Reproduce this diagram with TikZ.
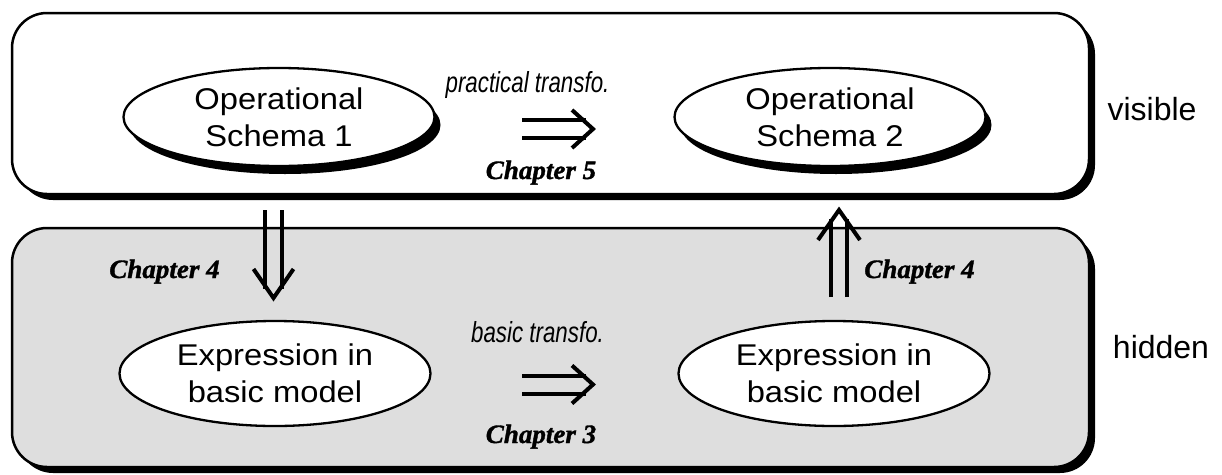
\documentclass[tikz,border=0pt]{standalone}
\usepackage{fontspec}
\setmainfont{Liberation Sans}
\newfontfamily\ovalfont[FakeStretch=1.09]{Liberation Sans}
\newfontfamily\chapfont[FakeBold=1.3, FakeStretch=1.02]{Liberation Serif}
\newfontfamily\transfont[FakeStretch=0.77]{Liberation Sans}
\usetikzlibrary{shapes.geometric,shadows}
\definecolor{panelgray}{RGB}{222,222,222}
\begin{document}
\begin{tikzpicture}[x=1pt,y=-1pt,
  panel/.style={rectangle, draw=black, line width=2.5pt, rounded corners=35pt, inner sep=0pt,
    drop shadow={opacity=1, fill=black, shadow xshift=6pt, shadow yshift=-6pt}},
  oval/.style={ellipse, draw=black, line width=2.3pt, fill=white, inner sep=0pt, align=center,
    minimum width=311pt, font=\ovalfont\fontsize{30}{37}\selectfont},
  ovalshadow/.style={drop shadow={opacity=1, fill=black, shadow xshift=6pt, shadow yshift=-8pt}},
  side/.style={anchor=base, font=\fontsize{32}{32}\selectfont},
  chap/.style={anchor=base, font=\chapfont\bfseries\itshape\fontsize{26.5}{26.5}\selectfont},
  transfo/.style={anchor=base, font=\transfont\itshape\fontsize{29}{29}\selectfont},
  dblline/.style={line width=4pt, line cap=butt, line join=miter}
]
\useasboundingbox (0,0) rectangle (1222,474);

% panels
\node[panel, fill=white, minimum width=1077pt, minimum height=181pt] (vis) at (550.5,103.5) {};
\node[panel, fill=panelgray, minimum width=1077pt, minimum height=239pt] (hid) at (550.5,347.5) {};

% side labels
\node[side] (lvis) at (1152,120) {visible};
\node[side] (lhid) at (1161,358) {hidden};

% ellipses
\node[oval, ovalshadow, minimum height=98pt] (os1) at (279,117) {Operational\\Schema 1};
\node[oval, ovalshadow, minimum height=98pt] (os2) at (830,117) {Operational\\Schema 2};
\node[oval, minimum height=105pt] (eb1) at (275,373.5) {Expression in\\basic model};
\node[oval, minimum height=105pt] (eb2) at (834,373.5) {Expression in\\basic model};

% texts
\node[transfo] (tp) at (527.5,92) {practical transfo.};
\node[transfo] (tb) at (537.5,342) {basic transfo.};
\node[chap] (c5) at (541,179) {Chapter 5};
\node[chap] (c3) at (541,443) {Chapter 3};
\node[chap] (c4l) at (164.5,278) {Chapter 4};
\node[chap] (c4r) at (919.5,278) {Chapter 4};

% double arrows
\coordinate (h1s) at (522,129); \coordinate (h1e) at (593,129);
\coordinate (h2s) at (522,384.5); \coordinate (h2e) at (593,384.5);
\coordinate (d1s) at (273.5,210); \coordinate (d1e) at (273.5,298);
\coordinate (u1s) at (839,297); \coordinate (u1e) at (839,210);

\draw[dblline] ([yshift=9pt]h1s) -- ([xshift=-7pt,yshift=9pt]h1e)
               ([yshift=-9pt]h1s) -- ([xshift=-7pt,yshift=-9pt]h1e);
\draw[dblline] ([xshift=-21pt,yshift=19pt]h1e) -- (h1e) -- ([xshift=-21pt,yshift=-19pt]h1e);

\draw[dblline] ([yshift=9pt]h2s) -- ([xshift=-7pt,yshift=9pt]h2e)
               ([yshift=-9pt]h2s) -- ([xshift=-7pt,yshift=-9pt]h2e);
\draw[dblline] ([xshift=-21pt,yshift=19pt]h2e) -- (h2e) -- ([xshift=-21pt,yshift=-19pt]h2e);

\draw[dblline] ([xshift=-8.5pt]d1s) -- ([xshift=-8.5pt,yshift=9pt]d1e)
               ([xshift=8.5pt]d1s) -- ([xshift=8.5pt,yshift=9pt]d1e);
\draw[dblline] ([xshift=-20pt,yshift=29pt]d1e) -- (d1e) -- ([xshift=20pt,yshift=29pt]d1e);

\draw[dblline] ([xshift=-8pt]u1s) -- ([xshift=-8pt,yshift=-9pt]u1e)
               ([xshift=8pt]u1s) -- ([xshift=8pt,yshift=-9pt]u1e);
\draw[dblline] ([xshift=-21pt,yshift=-30pt]u1e) -- (u1e) -- ([xshift=21pt,yshift=-30pt]u1e);
\end{tikzpicture}
\end{document}
